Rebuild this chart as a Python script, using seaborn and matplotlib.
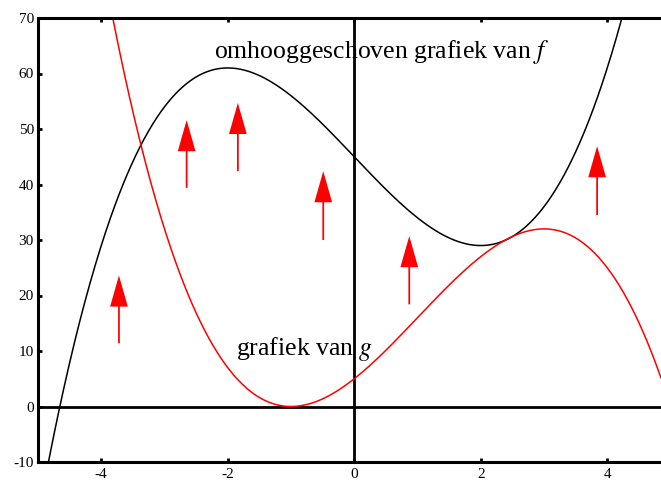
import numpy as np
import pandas as pd
import seaborn as sns
import matplotlib.pyplot as plt

# cubic coefficients (highest power first)
f_shifted_coef = [1, 0, -12, 45]   # max 61 at x=-2, min 29 at x=2
g_coef = [-1, 3, 9, 5]             # double root at x=-1, max 32 at x=3

# red arrows: x position, start y, end y
arrow_x = [-3.72, -2.65, -1.84, -0.49, 0.87, 3.84]
arrow_y0 = [11.4, 39.4, 42.4, 30.0, 18.4, 34.5]
arrow_y1 = [23.6, 51.6, 54.7, 42.4, 30.7, 46.9]

x_ticks = [-4, -2, 0, 2, 4]
y_ticks = [-10, 0, 10, 20, 30, 40, 50, 60, 70]

sns.set_style("white")
plt.rcParams['font.family'] = ['Liberation Serif', 'DejaVu Serif']
plt.rcParams['mathtext.fontset'] = 'stix'
plt.rcParams['axes.unicode_minus'] = False
plt.rcParams['text.color'] = 'black'
plt.rcParams['xtick.color'] = 'black'
plt.rcParams['ytick.color'] = 'black'

xs = np.linspace(-5, 4.85, 600)
df = pd.DataFrame({
    'x': np.concatenate([xs, xs]),
    'y': np.concatenate([np.polyval(f_shifted_coef, xs), np.polyval(g_coef, xs)]),
    'curve': ['f'] * len(xs) + ['g'] * len(xs),
})

fig = plt.figure(figsize=(6.61, 4.83), dpi=100)
ax = fig.add_axes([38 / 661, 21 / 483, 1 - 38 / 661, 444 / 483])

sns.lineplot(data=df, x='x', y='y', hue='curve', palette={'f': 'black', 'g': 'red'},
             linewidth=1.1, legend=False, ax=ax, sort=False, estimator=None)

ax.axhline(0, color='black', lw=2.0, zorder=1)
ax.axvline(0, color='black', lw=2.0, zorder=1)

for x, y0, y1 in zip(arrow_x, arrow_y0, arrow_y1):
    ax.arrow(x, y0, 0, y1 - y0, width=0.028, head_width=0.28, head_length=5.6,
             length_includes_head=True, color='red', lw=0, zorder=3)

ax.text(-2.22, 62.8, 'omhooggeschoven grafiek van $f$', fontsize=18.5, color='black')
ax.text(-1.87, 9.2, 'grafiek van $g$', fontsize=18.5, color='black')

ax.set_xlim(-5, 4.85)
ax.set_ylim(-10, 70)
ax.set_xticks(x_ticks)
ax.set_yticks(y_ticks)
ax.set_xlabel('')
ax.set_ylabel('')
ax.tick_params(axis='both', direction='in', length=3, width=2, labelsize=11, color='black')
ax.tick_params(axis='x', top=True, bottom=True, pad=4)
ax.tick_params(axis='y', left=True, right=False, pad=3)

for side in ['left', 'top', 'bottom']:
    ax.spines[side].set_linewidth(2.2)
    ax.spines[side].set_color('black')
ax.spines['right'].set_visible(False)

fig.savefig('out.png', dpi=100)
